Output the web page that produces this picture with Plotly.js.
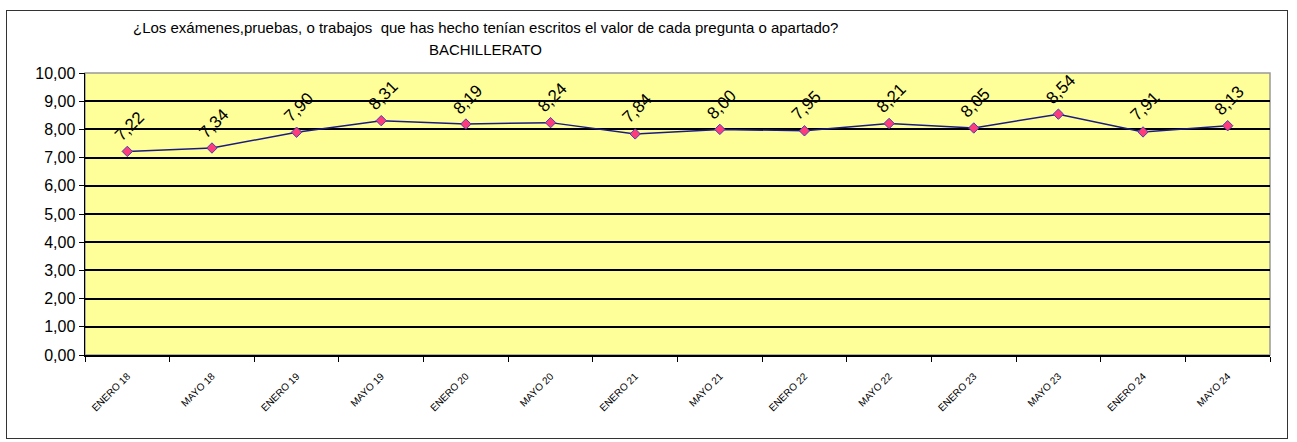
<!DOCTYPE html>
<html>
<head>
<meta charset="utf-8">
<script src="https://cdn.plot.ly/plotly-3.0.1.min.js"></script>
<style>
  html, body { margin: 0; padding: 0; background: #fff; }
  #chart { width: 1297px; height: 442px; position: relative; }
  #frame { position: absolute; left: 6px; top: 10px; width: 1282px; height: 429px; border: 1px solid #333; pointer-events: none; box-sizing: border-box; }
</style>
</head>
<body>
<div id="chart"></div>
<div id="frame"></div>
<script>
const categories = ["ENERO 18","MAYO 18","ENERO 19","MAYO 19","ENERO 20","MAYO 20","ENERO 21","MAYO 21","ENERO 22","MAYO 22","ENERO 23","MAYO 23","ENERO 24","MAYO 24"];
const values = [7.22, 7.34, 7.90, 8.31, 8.19, 8.24, 7.84, 8.00, 7.95, 8.21, 8.05, 8.54, 7.91, 8.13];
const yTickVals = [0,1,2,3,4,5,6,7,8,9,10];
const yTickText = ["0,00","1,00","2,00","3,00","4,00","5,00","6,00","7,00","8,00","9,00","10,00"];
const titleLine1 = "¿Los exámenes,pruebas, o trabajos  que has hecho tenían escritos el valor de cada pregunta o apartado?";
const titleLine2 = "BACHILLERATO";

const fmt = v => v.toFixed(2).replace(".", ",");
const FONT = "'Liberation Sans Narrow', 'Liberation Sans', Arial, sans-serif";

const trace = {
  x: categories,
  y: values,
  type: "scatter",
  mode: "lines+markers",
  line: { color: "#1a1a80", width: 1.5 },
  marker: { symbol: "diamond", size: 8, color: "#ff3b7a", line: { color: "#4040c0", width: 1 } },
  hoverinfo: "skip"
};

const annotations = categories.map((c, i) => ({
  x: c, y: values[i], xref: "x", yref: "y",
  text: fmt(values[i]),
  showarrow: false,
  textangle: -45,
  xshift: 2, yshift: 25,
  font: { family: FONT, size: 17, color: "#000" }
}));

annotations.push({
  x: 0.3376, y: 1.16, xref: "paper", yref: "paper",
  xanchor: "center", yanchor: "middle", showarrow: false,
  text: titleLine1,
  font: { family: FONT, size: 15, color: "#000" }
});
annotations.push({
  x: 0.3376, y: 1.082, xref: "paper", yref: "paper",
  xanchor: "center", yanchor: "middle", showarrow: false,
  text: titleLine2,
  font: { family: FONT, size: 15, color: "#000" }
});

const layout = {
  width: 1297, height: 442,
  margin: { l: 85, r: 27, t: 73, b: 87 },
  paper_bgcolor: "rgba(0,0,0,0)",
  plot_bgcolor: "#ffff99",
  showlegend: false,
  xaxis: {
    type: "category",
    range: [-0.5, 13.5],
    tickson: "boundaries",
    ticks: "outside", ticklen: 5, tickcolor: "#000", tickwidth: 1,
    showgrid: false,
    showline: true, linecolor: "#000", linewidth: 1.5,
    tickangle: -45,
    ticklabelstandoff: 10,
    tickfont: { family: "Arial, 'Liberation Sans', sans-serif", size: 10, color: "#000" },
    zeroline: false
  },
  yaxis: {
    range: [0, 10],
    tickvals: yTickVals,
    ticktext: yTickText,
    ticks: "outside", ticklen: 5, tickcolor: "#000",
    showgrid: true, gridcolor: "#000", gridwidth: 2,
    showline: true, linecolor: "#000", linewidth: 1.5,
    tickfont: { family: FONT, size: 16, color: "#000" },
    zeroline: false
  },
  shapes: [
    { type: "rect", xref: "paper", yref: "paper", x0: 0, x1: 1, y0: 0, y1: 1, line: { color: "#999", width: 1.5 }, layer: "below" }
  ],
  annotations: annotations,
  font: { family: FONT }
};

Plotly.newPlot("chart", [trace], layout, { displayModeBar: false, staticPlot: true });
</script>
</body>
</html>
